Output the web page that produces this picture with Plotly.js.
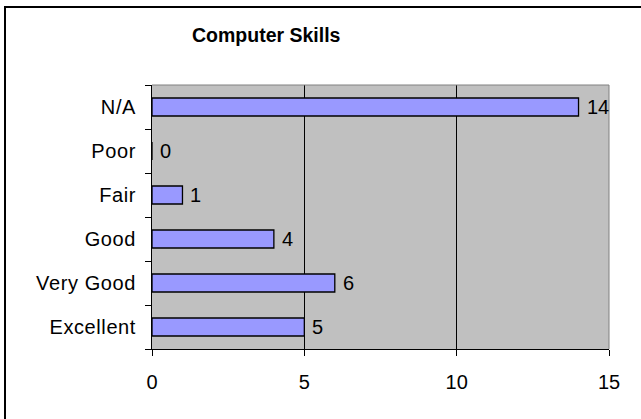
<!DOCTYPE html>
<html>
<head>
<meta charset="utf-8">
<script src="https://cdn.plot.ly/plotly-3.0.1.min.js"></script>
<style>
html,body{margin:0;padding:0;background:#fff;}
#chart{width:641px;height:419px;}
.ytick text{letter-spacing:0.6px;}
</style>
</head>
<body>
<div id="chart"></div>
<script>
const categories = ["Excellent", "Very Good", "Good", "Fair", "Poor", "N/A"];
const counts = [5, 6, 4, 1, 0, 14];
const xTicks = [0, 5, 10, 15];
const chartTitle = "Computer Skills";

const W = 641, H = 419;
const L = 152, R = 32, T = 85, B = 70;
const pw = W - L - R, ph = H - T - B;
const px = x => (x - L) / pw;
const py = y => (H - B - y) / ph;

const font = {family: "Liberation Sans, Arial, sans-serif", color: "#000"};

const trace = {
  type: "bar",
  orientation: "h",
  x: counts,
  y: categories,
  width: 0.41,
  marker: {color: "#9999ff", line: {color: "#000", width: 1.3}},
  hoverinfo: "none"
};

const valueLabels = counts.map((v, i) => ({
  x: v, y: categories[i], xref: "x", yref: "y",
  text: String(v), showarrow: false, xanchor: "left", yanchor: "middle",
  xshift: 6, font: Object.assign({size: 20}, font)
}));

const layout = {
  width: W, height: H,
  margin: {l: L, r: R, t: T, b: B, pad: 0},
  paper_bgcolor: "#ffffff",
  plot_bgcolor: "#c0c0c0",
  showlegend: false,
  font: Object.assign({size: 20}, font),
  xaxis: {
    range: [0, 15], tickvals: xTicks, ticktext: xTicks.map(String),
    showgrid: true, gridcolor: "#000", gridwidth: 1,
    zeroline: false, showline: true, linecolor: "#000", linewidth: 1,
    ticks: "outside", ticklen: 6, tickcolor: "#000", tickwidth: 1,
    ticklabelstandoff: 9,
    tickfont: Object.assign({size: 20}, font), fixedrange: true
  },
  yaxis: {
    type: "category", categoryorder: "array", categoryarray: categories,
    range: [-0.5, categories.length - 0.5],
    showgrid: false, zeroline: false, showline: true, linecolor: "#000", linewidth: 1,
    ticks: "outside", ticklen: 6, tickcolor: "#000", tickwidth: 1,
    tickson: "boundaries", ticklabelstandoff: 11,
    tickfont: Object.assign({size: 20}, font), fixedrange: true
  },
  annotations: valueLabels.concat([{
    x: px(266), y: py(35), xref: "paper", yref: "paper",
    text: "<b>" + chartTitle + "</b>", showarrow: false,
    xanchor: "center", yanchor: "middle",
    font: Object.assign({size: 19.5}, font)
  }]),
  shapes: [
    {type: "line", xref: "paper", yref: "paper", x0: 0, x1: 1, y0: 1, y1: 1,
     line: {color: "#808080", width: 1}, layer: "above"},
    {type: "line", xref: "paper", yref: "paper", x0: 1, x1: 1, y0: 0, y1: 1,
     line: {color: "#808080", width: 1}, layer: "above"},
    {type: "rect", xref: "paper", yref: "paper",
     x0: px(5), x1: px(660), y0: py(7), y1: py(440),
     line: {color: "#000", width: 2}, fillcolor: "rgba(0,0,0,0)", layer: "above"}
  ]
};

Plotly.newPlot("chart", [trace], layout, {staticPlot: true, displayModeBar: false});
</script>
</body>
</html>
